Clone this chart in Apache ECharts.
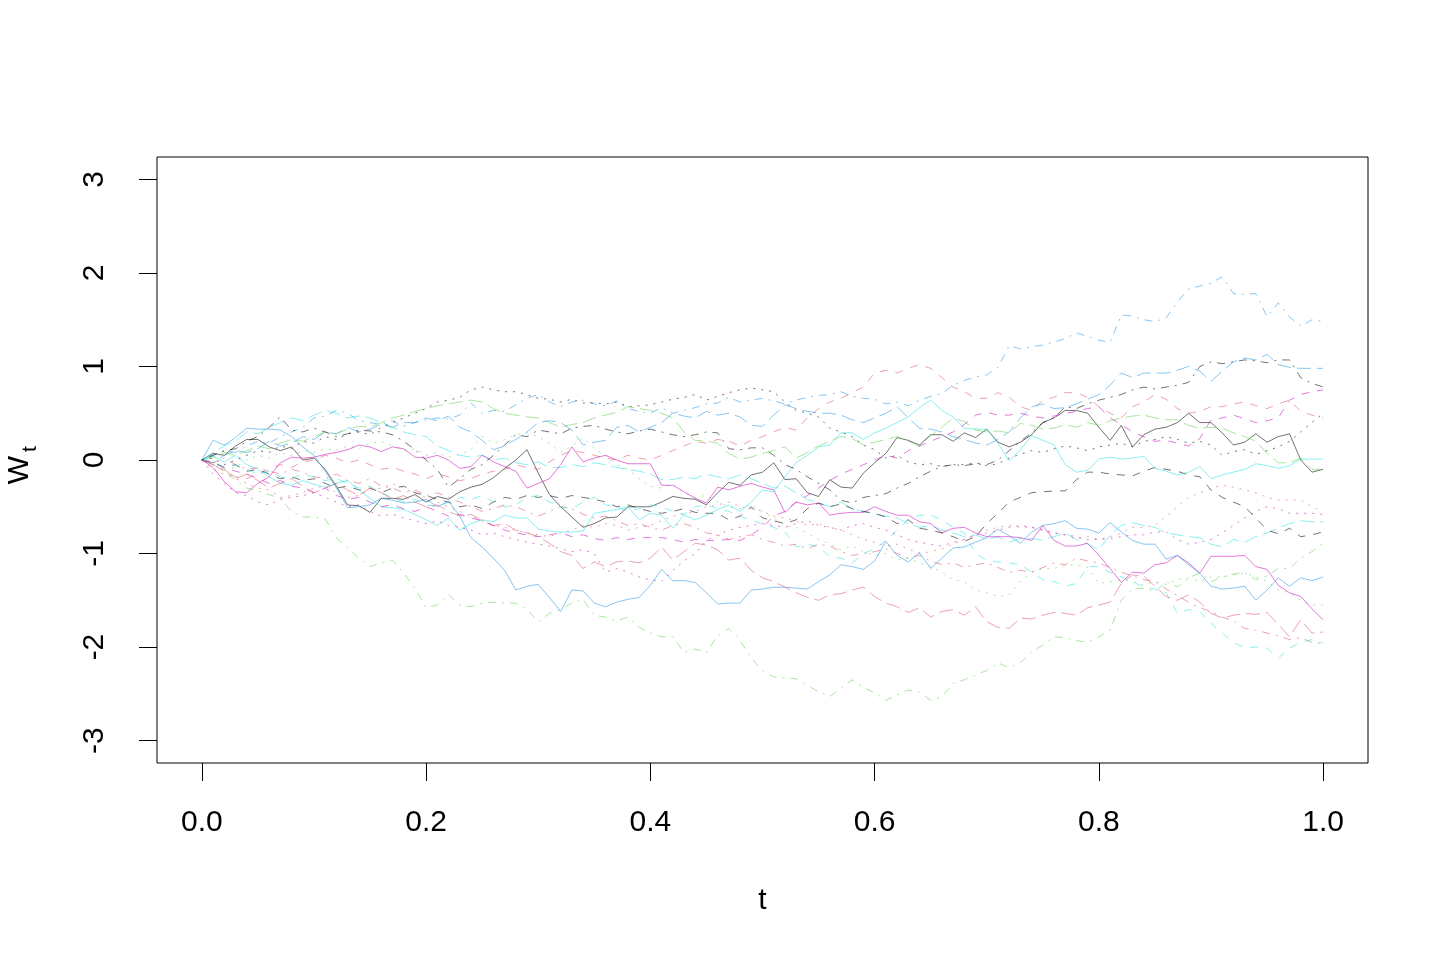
<!DOCTYPE html>
<html>
<head>
<meta charset="utf-8">
<script src="https://cdn.jsdelivr.net/npm/echarts@6/dist/echarts.min.js"></script>
<style>
html,body{margin:0;padding:0;background:#fff;}
#chart{width:1449px;height:960px;}
</style>
</head>
<body>
<div id="chart"></div>
<script>
// time grid: 101 points, t = 0.00 .. 1.00
const timeStep = 0.01;
const xTicks = [0, 0.2, 0.4, 0.6, 0.8, 1.0];
const yTicks = [-3, -2, -1, 0, 1, 2, 3];

// series values (one per time point)
const w01 = [0,0.07,0.05,0.15,0.22,0.22,0.14,0.1,0.14,0.0,
 0.02,-0.1,-0.28,-0.48,-0.49,-0.56,-0.41,-0.41,-0.42,-0.37,
 -0.45,-0.39,-0.42,-0.34,-0.29,-0.26,-0.19,-0.09,0.0,0.11,
 -0.14,-0.37,-0.5,-0.61,-0.72,-0.68,-0.62,-0.61,-0.5,-0.5,
 -0.5,-0.45,-0.39,-0.41,-0.42,-0.48,-0.35,-0.24,-0.27,-0.16,
 -0.13,-0.03,-0.21,-0.2,-0.35,-0.39,-0.21,-0.29,-0.3,-0.14,
 -0.03,0.07,0.24,0.21,0.16,0.27,0.27,0.2,0.29,0.24,
 0.33,0.19,0.14,0.19,0.27,0.4,0.45,0.53,0.53,0.5,
 0.35,0.21,0.37,0.14,0.27,0.33,0.35,0.4,0.5,0.4,
 0.4,0.29,0.16,0.19,0.28,0.19,0.25,0.28,0.0,-0.13,
 -0.1];
const w02 = [0,-0.05,-0.12,-0.18,-0.2,-0.15,-0.1,-0.05,-0.08,-0.02,
 0.0,0.05,0.02,-0.03,0.0,-0.05,-0.1,-0.08,-0.12,-0.15,
 -0.2,-0.15,-0.18,-0.22,-0.2,-0.15,-0.12,-0.1,-0.05,-0.08,
 -0.1,-0.02,0.05,0.1,0.08,0.05,0.02,0.0,0.05,0.02,
 0.0,0.05,0.1,0.15,0.2,0.18,0.22,0.2,0.15,0.21,
 0.25,0.3,0.35,0.32,0.45,0.55,0.62,0.66,0.72,0.78,
 0.93,0.96,0.93,0.98,1.02,0.98,0.88,0.78,0.73,0.66,
 0.66,0.72,0.67,0.57,0.53,0.64,0.67,0.72,0.72,0.67,
 0.57,0.5,0.45,0.57,0.62,0.7,0.65,0.55,0.5,0.52,
 0.57,0.57,0.6,0.62,0.58,0.55,0.6,0.64,0.52,0.48,
 0.45];
const w03 = [0,-0.05,-0.1,-0.08,0.0,0.05,0.02,0.08,0.05,0.1,
 0.08,0.12,0.1,0.15,0.12,0.18,0.2,0.15,0.1,0.12,
 0.05,0.08,0.03,0.06,0.11,0.25,0.18,0.22,0.27,0.29,
 0.25,0.18,0.08,0.15,0.24,0.12,0.05,-0.05,-0.1,-0.2,
 -0.28,-0.3,-0.25,-0.35,-0.4,-0.38,-0.45,-0.5,-0.52,-0.48,
 -0.55,-0.62,-0.7,-0.72,-0.78,-0.85,-0.9,-0.96,-0.92,-0.98,
 -1.02,-1.0,-1.07,-1.05,-1.1,-1.14,-1.2,-1.28,-1.3,-1.39,
 -1.42,-1.46,-1.44,-1.3,-1.2,-1.16,-1.16,-1.13,-1.12,-1.15,
 -1.32,-1.3,-1.28,-1.3,-1.34,-1.3,-1.33,-1.28,-1.26,-1.3,
 -1.25,-1.25,-1.23,-1.21,-1.25,-1.3,-1.39,-1.42,-1.5,-1.55,
 -1.55];
const w04 = [0,0.05,0.1,0.08,0.15,0.2,0.18,0.25,0.3,0.35,
 0.45,0.47,0.53,0.5,0.42,0.4,0.38,0.42,0.36,0.4,
 0.43,0.45,0.44,0.48,0.61,0.5,0.53,0.52,0.59,0.66,
 0.7,0.62,0.57,0.62,0.64,0.6,0.58,0.63,0.55,0.52,
 0.5,0.56,0.5,0.53,0.56,0.6,0.61,0.67,0.62,0.64,
 0.66,0.63,0.6,0.64,0.67,0.69,0.7,0.73,0.68,0.66,
 0.65,0.6,0.62,0.58,0.64,0.68,0.71,0.8,0.85,0.89,
 0.91,0.99,1.22,1.19,1.21,1.23,1.26,1.3,1.36,1.32,
 1.28,1.26,1.55,1.54,1.5,1.48,1.52,1.69,1.83,1.86,
 1.89,1.96,1.78,1.77,1.78,1.53,1.68,1.53,1.43,1.5,
 1.48];
const w05 = [0,0.08,0.15,0.2,0.3,0.28,0.35,0.4,0.45,0.42,
 0.48,0.53,0.5,0.45,0.47,0.45,0.4,0.35,0.3,0.27,
 0.25,0.15,0.1,0.05,0.03,0.05,0.0,0.02,-0.03,-0.05,
 -0.02,-0.08,-0.08,-0.05,-0.07,-0.03,-0.05,-0.08,-0.1,-0.12,
 -0.15,-0.21,-0.21,-0.18,-0.2,-0.15,-0.18,-0.2,-0.16,-0.2,
 -0.25,-0.3,-0.28,-0.35,-0.42,-0.46,-0.5,-0.45,-0.52,-0.55,
 -0.58,-0.6,-0.62,-0.68,-0.72,-0.7,-0.75,-0.78,-0.82,-0.8,
 -0.85,-0.82,-0.88,-0.84,-0.84,-0.86,-0.82,-0.78,-0.85,-0.9,
 -0.96,-0.8,-0.7,-0.67,-0.7,-0.72,-0.78,-0.8,-0.82,-0.83,
 -0.9,-0.93,-0.85,-0.88,-0.82,-0.78,-0.73,-0.68,-0.65,-0.66,
 -0.66];
const w06 = [0,-0.08,-0.23,-0.34,-0.35,-0.25,-0.18,-0.03,0.03,0.02,
 0.03,0.06,0.08,0.11,0.16,0.14,0.09,0.14,0.12,0.03,
 0.02,0.05,0.0,-0.09,-0.07,0.05,-0.02,-0.07,-0.12,-0.3,
 -0.25,-0.2,-0.05,0.14,-0.02,0.02,0.05,0.0,-0.04,-0.04,
 -0.04,-0.27,-0.27,-0.34,-0.41,-0.46,-0.29,-0.32,-0.28,-0.25,
 -0.29,-0.32,-0.56,-0.45,-0.48,-0.46,-0.59,-0.57,-0.56,-0.56,
 -0.5,-0.55,-0.59,-0.59,-0.66,-0.68,-0.78,-0.73,-0.72,-0.78,
 -0.82,-0.82,-0.82,-0.83,-0.86,-0.7,-0.86,-0.92,-0.92,-0.89,
 -1.02,-1.16,-1.31,-1.2,-1.21,-1.12,-1.1,-1.02,-1.1,-1.21,
 -1.03,-1.03,-1.03,-1.02,-1.14,-1.17,-1.34,-1.42,-1.46,-1.59,
 -1.71];
const w07 = [0,-0.03,-0.08,-0.05,-0.12,-0.1,-0.15,-0.2,-0.18,-0.22,
 -0.2,-0.25,-0.3,-0.28,-0.32,-0.3,-0.35,-0.3,-0.28,-0.35,
 -0.38,-0.42,-0.45,-0.5,-0.48,-0.52,-0.45,-0.4,-0.42,-0.38,
 -0.4,-0.38,-0.41,-0.38,-0.4,-0.42,-0.45,-0.5,-0.48,-0.52,
 -0.55,-0.57,-0.55,-0.52,-0.56,-0.57,-0.57,-0.64,-0.6,-0.5,
 -0.62,-0.65,-0.68,-0.64,-0.52,-0.46,-0.5,-0.47,-0.52,-0.55,
 -0.57,-0.61,-0.68,-0.64,-0.73,-0.75,-0.78,-0.82,-0.87,-0.82,
 -0.68,-0.57,-0.45,-0.4,-0.35,-0.34,-0.33,-0.33,-0.21,-0.13,
 -0.13,-0.15,-0.16,-0.17,-0.12,-0.08,-0.1,-0.12,-0.16,-0.18,
 -0.32,-0.4,-0.45,-0.5,-0.62,-0.75,-0.79,-0.73,-0.82,-0.8,
 -0.77];
const w08 = [0,-0.1,-0.15,-0.2,-0.25,-0.3,-0.32,-0.4,-0.38,-0.35,
 -0.3,-0.28,-0.35,-0.4,-0.38,-0.32,-0.3,-0.25,-0.3,-0.35,
 -0.4,-0.45,-0.5,-0.55,-0.6,-0.65,-0.7,-0.72,-0.75,-0.78,
 -0.8,-0.82,-0.78,-0.75,-0.7,-0.72,-0.68,-0.7,-0.75,-0.72,
 -0.7,-0.65,-0.6,-0.58,-0.55,-0.5,-0.48,-0.45,-0.5,-0.52,
 -0.55,-0.6,-0.62,-0.65,-0.7,-0.68,-0.72,-0.75,-0.8,-0.85,
 -0.88,-0.92,-0.9,-0.95,-1.0,-0.98,-0.95,-0.9,-0.85,-0.8,
 -0.75,-0.72,-0.7,-0.72,-0.72,-0.75,-0.78,-0.8,-0.85,-0.82,
 -0.85,-0.82,-0.78,-0.72,-0.72,-0.7,-0.6,-0.5,-0.4,-0.35,
 -0.3,-0.27,-0.29,-0.32,-0.35,-0.4,-0.43,-0.43,-0.43,-0.5,
 -0.55];
const w09 = [0,-0.05,-0.12,-0.21,-0.3,-0.33,-0.37,-0.41,-0.55,-0.61,
 -0.61,-0.63,-0.83,-0.94,-1.05,-1.14,-1.1,-1.07,-1.21,-1.37,
 -1.58,-1.55,-1.44,-1.55,-1.57,-1.53,-1.52,-1.53,-1.53,-1.6,
 -1.73,-1.64,-1.6,-1.53,-1.49,-1.66,-1.68,-1.72,-1.68,-1.79,
 -1.85,-1.89,-1.89,-2.06,-2.02,-2.06,-1.88,-1.8,-1.93,-2.12,
 -2.25,-2.32,-2.33,-2.34,-2.41,-2.48,-2.53,-2.44,-2.35,-2.43,
 -2.49,-2.57,-2.51,-2.46,-2.48,-2.57,-2.53,-2.39,-2.35,-2.3,
 -2.25,-2.17,-2.22,-2.17,-2.05,-1.98,-1.89,-1.9,-1.93,-1.95,
 -1.89,-1.82,-1.5,-1.38,-1.37,-1.41,-1.3,-1.36,-1.26,-1.21,
 -1.3,-1.25,-1.22,-1.2,-1.28,-1.24,-1.16,-1.16,-1.05,-0.98,
 -0.89];
const w10 = [0,-0.03,0.05,0.1,0.08,0.12,0.2,0.15,0.18,0.25,
 0.22,0.3,0.28,0.35,0.3,0.33,0.38,0.35,0.4,0.4,
 0.45,0.42,0.47,0.35,0.3,0.21,0.11,0.15,0.22,0.3,
 0.4,0.42,0.4,0.32,0.16,0.19,0.21,0.35,0.37,0.3,
 0.35,0.4,0.5,0.47,0.45,0.52,0.48,0.5,0.46,0.37,
 0.36,0.48,0.59,0.55,0.52,0.5,0.5,0.48,0.43,0.4,
 0.45,0.5,0.57,0.45,0.34,0.33,0.3,0.25,0.22,0.18,
 0.16,0.22,0.3,0.45,0.57,0.6,0.55,0.56,0.6,0.65,
 0.7,0.8,0.93,0.88,0.93,0.93,0.93,0.96,1.0,0.95,
 0.84,0.95,1.05,1.09,1.07,1.13,1.02,0.99,0.98,0.98,
 0.98];
const w11 = [0,0.04,-0.02,0.05,-0.05,-0.1,-0.18,-0.25,-0.27,-0.22,
 -0.26,-0.29,-0.25,-0.22,-0.32,-0.41,-0.5,-0.51,-0.53,-0.58,
 -0.64,-0.7,-0.62,-0.75,-0.68,-0.64,-0.66,-0.59,-0.62,-0.62,
 -0.74,-0.76,-0.77,-0.77,-0.76,-0.57,-0.55,-0.53,-0.5,-0.64,
 -0.57,-0.59,-0.73,-0.59,-0.64,-0.59,-0.53,-0.48,-0.55,-0.45,
 -0.32,-0.34,-0.18,-0.03,0.05,0.14,0.16,0.29,0.29,0.22,
 0.29,0.34,0.4,0.46,0.56,0.64,0.53,0.46,0.34,0.33,
 0.33,0.18,-0.01,0.11,0.26,0.21,0.16,-0.05,-0.13,-0.11,
 0.01,0.03,0.01,0.02,0.04,-0.09,-0.12,-0.16,-0.13,-0.07,
 -0.2,-0.16,-0.13,-0.1,-0.04,-0.06,-0.09,-0.06,0.01,0.01,
 0.01];
const w12 = [0,-0.02,-0.08,-0.12,-0.15,-0.2,-0.25,-0.22,-0.28,-0.3,
 -0.35,-0.3,-0.38,-0.42,-0.4,-0.45,-0.5,-0.48,-0.52,-0.55,
 -0.5,-0.55,-0.6,-0.58,-0.62,-0.65,-0.7,-0.75,-0.78,-0.8,
 -0.82,-0.8,-0.78,-0.82,-0.8,-0.84,-0.86,-0.83,-0.85,-0.83,
 -0.83,-0.83,-0.85,-0.88,-0.85,-0.86,-0.86,-0.85,-0.86,-0.8,
 -0.72,-0.6,-0.55,-0.45,-0.38,-0.3,-0.22,-0.15,-0.1,-0.05,
 0.0,0.05,0.02,0.1,0.15,0.2,0.25,0.3,0.38,0.48,
 0.51,0.48,0.48,0.5,0.47,0.45,0.47,0.5,0.52,0.55,
 0.57,0.45,0.38,0.3,0.25,0.2,0.21,0.18,0.15,0.23,
 0.43,0.45,0.48,0.44,0.4,0.42,0.45,0.64,0.7,0.73,
 0.75];
const w13 = [0,0.02,-0.05,0.0,0.05,0.1,0.08,0.15,0.12,0.2,
 0.18,0.25,0.22,0.28,0.3,0.27,0.35,0.4,0.45,0.5,
 0.55,0.62,0.64,0.67,0.75,0.78,0.75,0.73,0.73,0.7,
 0.66,0.65,0.62,0.65,0.61,0.61,0.6,0.62,0.57,0.58,
 0.59,0.62,0.65,0.67,0.7,0.64,0.68,0.72,0.75,0.77,
 0.75,0.73,0.62,0.53,0.5,0.46,0.34,0.3,0.25,0.16,
 0.11,0.02,0.05,-0.02,-0.05,-0.04,-0.07,-0.05,-0.05,-0.03,
 -0.06,-0.04,0.02,0.06,0.1,0.08,0.12,0.15,0.13,0.1,
 0.14,0.16,0.18,0.14,0.2,0.22,0.25,0.22,0.18,0.2,
 0.16,0.05,0.09,0.11,0.06,0.1,0.14,0.2,0.3,0.4,
 0.5];
const w14 = [0,-0.03,0.02,-0.05,-0.1,-0.08,-0.12,-0.15,-0.1,-0.13,
 -0.18,-0.2,-0.15,-0.22,-0.25,-0.2,-0.28,-0.3,-0.35,-0.32,
 -0.38,-0.35,-0.4,-0.45,-0.5,-0.55,-0.52,-0.48,-0.5,-0.55,
 -0.6,-0.55,-0.5,-0.52,-0.58,-0.62,-0.6,-0.65,-0.7,-0.68,
 -0.72,-0.75,-0.7,-0.68,-0.72,-0.78,-0.8,-0.85,-0.82,-0.8,
 -0.85,-0.88,-0.92,-0.9,-0.95,-0.9,-0.92,-0.98,-1.02,-1.0,
 -0.98,-0.95,-1.0,-1.05,-1.02,-1.08,-1.12,-1.1,-1.15,-1.12,
 -1.1,-1.15,-1.2,-1.18,-1.2,-1.15,-1.1,-1.12,-1.05,-1.08,
 -1.1,-1.15,-1.2,-1.24,-1.28,-1.3,-1.38,-1.45,-1.52,-1.58,
 -1.62,-1.68,-1.72,-1.8,-1.82,-1.85,-1.88,-1.92,-1.9,-1.95,
 -1.96];
const w15 = [0,0.03,0.08,0.05,0.1,0.15,0.12,0.18,0.22,0.2,
 0.25,0.3,0.28,0.33,0.36,0.35,0.4,0.45,0.48,0.52,
 0.55,0.58,0.6,0.62,0.64,0.62,0.55,0.5,0.48,0.46,
 0.45,0.4,0.35,0.38,0.4,0.45,0.48,0.51,0.57,0.55,
 0.53,0.5,0.45,0.3,0.21,0.2,0.18,0.07,0.01,0.03,
 0.07,0.1,0.14,0.02,0.08,0.15,0.2,0.25,0.23,0.16,
 0.19,0.22,0.25,0.2,0.15,0.26,0.35,0.45,0.41,0.32,
 0.3,0.31,0.29,0.39,0.37,0.33,0.34,0.38,0.35,0.4,
 0.37,0.42,0.45,0.47,0.48,0.45,0.43,0.43,0.37,0.34,
 0.35,0.34,0.29,0.25,0.2,0.07,-0.03,-0.03,0.02,-0.1,
 -0.1];
const w16 = [0,0.21,0.16,0.24,0.34,0.33,0.33,0.32,0.25,0.14,
 0.05,-0.12,-0.3,-0.51,-0.5,-0.48,-0.41,-0.43,-0.46,-0.45,
 -0.42,-0.5,-0.44,-0.6,-0.83,-0.93,-1.05,-1.18,-1.39,-1.35,
 -1.33,-1.47,-1.62,-1.39,-1.4,-1.53,-1.57,-1.52,-1.49,-1.47,
 -1.34,-1.17,-1.29,-1.29,-1.31,-1.42,-1.54,-1.53,-1.53,-1.39,
 -1.38,-1.36,-1.36,-1.37,-1.38,-1.3,-1.23,-1.12,-1.14,-1.17,
 -1.08,-0.87,-1.02,-1.09,-0.99,-1.16,-1.05,-0.94,-0.93,-0.88,
 -0.83,-0.74,-0.81,-0.89,-0.77,-0.7,-0.68,-0.65,-0.73,-0.74,
 -0.78,-0.67,-0.77,-0.86,-0.9,-0.9,-1.06,-1.02,-1.12,-1.21,
 -1.35,-1.38,-1.37,-1.35,-1.5,-1.39,-1.26,-1.35,-1.26,-1.29,
 -1.25];
const w17 = [0,-0.02,-0.08,-0.05,-0.1,-0.15,-0.12,-0.18,-0.2,-0.15,
 -0.18,-0.22,-0.2,-0.25,-0.3,-0.28,-0.35,-0.4,-0.45,-0.42,
 -0.48,-0.5,-0.45,-0.4,-0.42,-0.38,-0.45,-0.5,-0.48,-0.4,
 -0.38,-0.45,-0.5,-0.52,-0.45,-0.4,-0.48,-0.5,-0.55,-0.52,
 -0.48,-0.5,-0.55,-0.58,-0.5,-0.48,-0.52,-0.55,-0.6,-0.65,
 -0.68,-0.72,-0.77,-0.93,-0.9,-0.93,-1.03,-1.05,-1.1,-1.0,
 -0.95,-0.86,-0.75,-0.64,-0.59,-0.59,-0.64,-0.72,-0.78,-1.0,
 -1.07,-1.09,-1.1,-1.12,-1.2,-1.28,-1.3,-1.35,-1.32,-1.14,
 -1.14,-1.2,-1.25,-1.3,-1.36,-1.38,-1.42,-1.64,-1.6,-1.62,
 -1.75,-1.85,-1.95,-2.01,-2.0,-2.01,-2.12,-2.01,-1.95,-1.92,
 -1.96];
const w18 = [0,-0.15,-0.25,-0.35,-0.38,-0.45,-0.48,-0.42,-0.4,-0.38,
 -0.35,-0.4,-0.45,-0.5,-0.48,-0.55,-0.6,-0.58,-0.62,-0.65,
 -0.68,-0.65,-0.7,-0.72,-0.75,-0.8,-0.78,-0.82,-0.85,-0.88,
 -0.9,-0.92,-0.95,-0.98,-0.96,-1.0,-1.2,-1.16,-1.2,-1.25,
 -1.28,-1.3,-1.18,-1.08,-1.0,-0.86,-0.8,-0.75,-0.72,-0.7,
 -0.68,-0.7,-0.72,-0.68,-0.65,-0.7,-0.72,-0.75,-0.7,-0.68,
 -0.72,-0.75,-0.8,-0.85,-0.88,-0.9,-0.92,-0.88,-0.85,-0.8,
 -0.78,-0.75,-0.72,-0.7,-0.72,-0.75,-0.78,-0.8,-0.82,-0.85,
 -0.85,-0.84,-0.82,-0.8,-0.8,-0.77,-0.77,-0.85,-0.9,-0.88,
 -0.85,-0.78,-0.7,-0.62,-0.55,-0.5,-0.52,-0.57,-0.57,-0.57,
 -0.58];
const w19 = [0,0.05,0.1,0.12,0.2,0.25,0.35,0.46,0.32,0.3,
 0.34,0.3,0.25,0.28,0.32,0.31,0.3,0.27,0.2,0.11,
 0.0,-0.1,-0.29,-0.2,-0.1,-0.05,0.05,0.16,0.27,0.25,
 0.32,0.3,0.28,0.34,0.36,0.37,0.33,0.3,0.28,0.31,
 0.33,0.3,0.27,0.25,0.27,0.3,0.29,0.12,0.11,0.13,
 0.13,0.05,-0.05,-0.1,-0.18,-0.25,-0.32,-0.43,-0.46,-0.4,
 -0.38,-0.36,-0.3,-0.25,-0.18,-0.12,-0.07,-0.05,-0.06,-0.04,
 -0.05,0.0,0.1,0.2,0.29,0.4,0.45,0.57,0.55,0.6,
 0.64,0.67,0.7,0.75,0.78,0.76,0.78,0.8,0.83,1.0,
 1.05,1.03,1.05,1.07,1.06,1.04,1.07,1.07,0.88,0.82,
 0.78];
const w20 = [0,-0.05,-0.1,-0.2,-0.15,-0.22,-0.3,-0.25,-0.2,-0.28,
 -0.35,-0.3,-0.25,-0.32,-0.38,-0.3,-0.35,-0.42,-0.38,-0.45,
 -0.5,-0.48,-0.55,-0.6,-0.58,-0.65,-0.7,-0.68,-0.75,-0.78,
 -0.82,-0.89,-0.98,-1.02,-1.16,-1.09,-1.14,-1.09,-1.08,-1.1,
 -1.05,-0.93,-1.07,-0.98,-0.89,-0.91,-0.96,-1.07,-1.05,-1.18,
 -1.26,-1.3,-1.36,-1.42,-1.47,-1.5,-1.44,-1.43,-1.39,-1.36,
 -1.46,-1.53,-1.57,-1.63,-1.58,-1.68,-1.62,-1.6,-1.66,-1.57,
 -1.73,-1.79,-1.8,-1.69,-1.7,-1.66,-1.63,-1.64,-1.66,-1.58,
 -1.55,-1.52,-1.32,-1.23,-1.24,-1.35,-1.46,-1.5,-1.44,-1.52,
 -1.64,-1.69,-1.66,-1.64,-1.65,-1.63,-1.76,-1.89,-1.71,-1.85,
 -1.84];

const paths = [w01,w02,w03,w04,w05,w06,w07,w08,w09,w10,w11,w12,w13,w14,w15,w16,w17,w18,w19,w20];
// R palette colours 1..6 and line types 1..5, recycled like matplot
const palette = ['#000000','#DF536B','#61D04F','#2297E6','#28E2E5','#CD0BBC'];
const dashes = ['solid',[8,8],[2,6],[2,6,8,6],[14,6]];

const FONT = '"Liberation Sans", Arial, Helvetica, sans-serif';

const series = paths.map((vals, k) => ({
  type: 'line',
  name: 'W' + (k + 1),
  data: vals.map((v, i) => [+(i * timeStep).toFixed(2), v]),
  showSymbol: false,
  symbol: 'none',
  smooth: false,
  silent: true,
  lineStyle: {
    color: palette[k % 6],
    width: 1,
    type: dashes[k % 5],
    opacity: 0.55
  },
  z: 2
}));

const chart = echarts.init(document.getElementById('chart'), null, {renderer: 'canvas'});
chart.setOption({
  animation: false,
  backgroundColor: '#ffffff',
  grid: {
    left: 157, top: 157, width: 1211, height: 606,
    show: true, borderColor: '#000', borderWidth: 1, backgroundColor: 'transparent',
    containLabel: false
  },
  xAxis: {
    type: 'value',
    min: -0.04, max: 1.04,
    position: 'bottom',
    name: 't',
    nameLocation: 'middle',
    nameGap: 123,
    nameTextStyle: {fontFamily: FONT, fontSize: 30, color: '#000'},
    axisLine: {show: false, onZero: false},
    axisTick: {show: true, inside: false, length: 18, lineStyle: {color: '#000', width: 1}, customValues: xTicks},
    axisLabel: {show: true, margin: 45, fontFamily: FONT, fontSize: 30, color: '#000',
      customValues: xTicks, formatter: v => v.toFixed(1)},
    splitLine: {show: false}
  },
  yAxis: {
    type: 'value',
    min: -3.24, max: 3.24,
    position: 'left',
    axisLine: {show: false, onZero: false},
    axisTick: {show: true, inside: false, length: 18, lineStyle: {color: '#000', width: 1}, customValues: yTicks},
    axisLabel: {show: true, margin: 47, rotate: 90, fontFamily: FONT, fontSize: 30, color: '#000',
      customValues: yTicks, formatter: v => String(v)},
    splitLine: {show: false}
  },
  graphic: [
    {type: 'text', x: 20, y: 470, rotation: Math.PI / 2,
      style: {text: 'W', font: '30px ' + FONT, fill: '#000', align: 'center', verticalAlign: 'middle'}},
    {type: 'text', x: 30, y: 449, rotation: Math.PI / 2,
      style: {text: 't', font: '21px ' + FONT, fill: '#000', align: 'center', verticalAlign: 'middle'}}
  ],
  series: series
});
</script>
</body>
</html>
